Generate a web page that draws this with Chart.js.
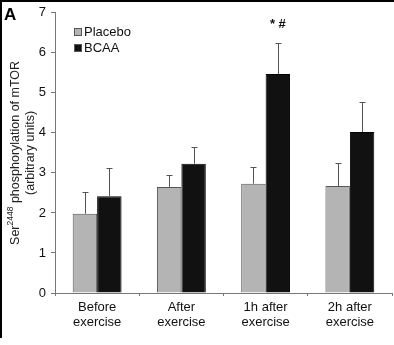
<!DOCTYPE html>
<html>
<head>
<meta charset="utf-8">
<script src="https://cdn.jsdelivr.net/npm/chart.js@4"></script>
<style>
  html, body { margin: 0; padding: 0; background: #fff; }
  #wrap { width: 394px; height: 345px; }
</style>
</head>
<body>
<div id="wrap"><canvas id="mtorChart" width="394" height="345"></canvas></div>
<script>
// mTOR Ser2448 phosphorylation, mean + SD
const timepoints = [['Before', 'exercise'], ['After', 'exercise'], ['1h after', 'exercise'], ['2h after', 'exercise']];
const placeboMean = [1.98, 2.65, 2.73, 2.67];
const placeboSD = [0.55, 0.30, 0.42, 0.58];
const bcaaMean = [2.42, 3.23, 5.47, 4.02];
const bcaaSD = [0.71, 0.42, 0.77, 0.75];
const yTicks = [0, 1, 2, 3, 4, 5, 6, 7];
const markers = ['', '', '* #', ''];

const FONT = '"Liberation Sans", Arial, sans-serif';
const AXIS = '#777';

// upward-only error bars plus the significance markers
const errorBars = {
    id: 'errorBars',
    afterDatasetsDraw(chart) {
        const ctx = chart.ctx;
        const y = chart.scales.y;
        const sds = [placeboSD, bcaaSD];
        ctx.save();
        ctx.strokeStyle = '#555';
        ctx.lineWidth = 1;
        chart.data.datasets.forEach((ds, di) => {
            chart.getDatasetMeta(di).data.forEach((bar, i) => {
                const x = Math.round(bar.x) + 0.5;
                const yTop = y.getPixelForValue(ds.data[i] + sds[di][i]);
                const yBar = y.getPixelForValue(ds.data[i]);
                ctx.beginPath();
                ctx.moveTo(x, yBar);
                ctx.lineTo(x, Math.round(yTop) + 0.5);
                ctx.moveTo(x - 3, Math.round(yTop) + 0.5);
                ctx.lineTo(x + 3, Math.round(yTop) + 0.5);
                ctx.stroke();
                if (di === 1 && markers[i]) {
                    ctx.fillStyle = '#111';
                    ctx.font = 'bold 13px ' + FONT;
                    ctx.textAlign = 'center';
                    ctx.textBaseline = 'bottom';
                    ctx.fillText(markers[i], bar.x, yTop - 12);
                }
            });
        });
        ctx.restore();
    }
};

// panel letter, legend, axis title and frame
const decorations = {
    id: 'decorations',
    afterDraw(chart) {
        const ctx = chart.ctx;
        const area = chart.chartArea;
        ctx.save();

        ctx.fillStyle = '#000';
        ctx.fillRect(0, 0, 394, 2);
        ctx.fillRect(0, 0, 2, 338);

        ctx.font = 'bold 17px ' + FONT;
        ctx.textAlign = 'left';
        ctx.textBaseline = 'alphabetic';
        ctx.fillText('A', 4, 20);

        const legend = [['Placebo', '#b4b4b4'], ['BCAA', '#111']];
        legend.forEach(([label, color], i) => {
            const top = 28 + i * 16;
            ctx.fillStyle = color;
            ctx.fillRect(74.5, top, 7, 7);
            ctx.strokeStyle = '#555';
            ctx.lineWidth = 1;
            ctx.strokeRect(74.5, top + 0.5, 7, 7);
            ctx.fillStyle = '#111';
            ctx.font = '13px ' + FONT;
            ctx.textBaseline = 'middle';
            ctx.fillText(label, 84, top + 4.5);
        });

        // rotated y title with superscript residue number
        const cy = (area.top + area.bottom) / 2;
        ctx.translate(16, cy);
        ctx.rotate(-Math.PI / 2);
        ctx.fillStyle = '#222';
        ctx.textBaseline = 'middle';
        const big = '12.5px ' + FONT;
        const small = '8.5px ' + FONT;
        const parts = [['Ser', big, 0], ['2448', small, -5], [' phosphorylation of mTOR', big, 0]];
        let total = 0;
        parts.forEach(([t, f]) => { ctx.font = f; total += ctx.measureText(t).width; });
        let x = -total / 2;
        parts.forEach(([t, f, dy]) => {
            ctx.font = f;
            ctx.fillText(t, x, dy);
            x += ctx.measureText(t).width;
        });
        ctx.font = big;
        ctx.textAlign = 'center';
        ctx.fillText('(arbitrary units)', 0, 15);
        ctx.restore();
    }
};

new Chart(document.getElementById('mtorChart'), {
    type: 'bar',
    data: {
        labels: timepoints,
        datasets: [
            {
                label: 'Placebo',
                data: placeboMean,
                backgroundColor: '#b4b4b4',
                borderColor: '#555',
                borderWidth: 1,
                borderSkipped: 'bottom'
            },
            {
                label: 'BCAA',
                data: bcaaMean,
                backgroundColor: '#111',
                borderColor: '#000',
                borderWidth: 1,
                borderSkipped: 'bottom'
            }
        ]
    },
    options: {
        responsive: false,
        animation: false,
        devicePixelRatio: 1,
        layout: { padding: { top: 11, right: 2, left: 0, bottom: 0 } },
        datasets: { bar: { categoryPercentage: 0.58, barPercentage: 1.0 } },
        plugins: {
            legend: { display: false },
            tooltip: { enabled: false }
        },
        scales: {
            x: {
                grid: { offset: true, drawOnChartArea: false, tickLength: 3, color: AXIS },
                border: { color: AXIS },
                ticks: {
                    color: '#111',
                    font: { family: FONT, size: 13, lineHeight: 1.15 },
                    padding: 4,
                    maxRotation: 0
                },
                afterFit(scale) { scale.height = 52; }
            },
            y: {
                min: 0,
                max: 7,
                afterBuildTicks(scale) { scale.ticks = yTicks.map(v => ({ value: v })); },
                grid: { drawOnChartArea: false, tickLength: 4, color: AXIS },
                border: { color: AXIS },
                ticks: {
                    color: '#111',
                    font: { family: FONT, size: 13 },
                    padding: 5
                },
                afterFit(scale) { scale.width = 55; }
            }
        }
    },
    plugins: [errorBars, decorations]
});
</script>
</body>
</html>
